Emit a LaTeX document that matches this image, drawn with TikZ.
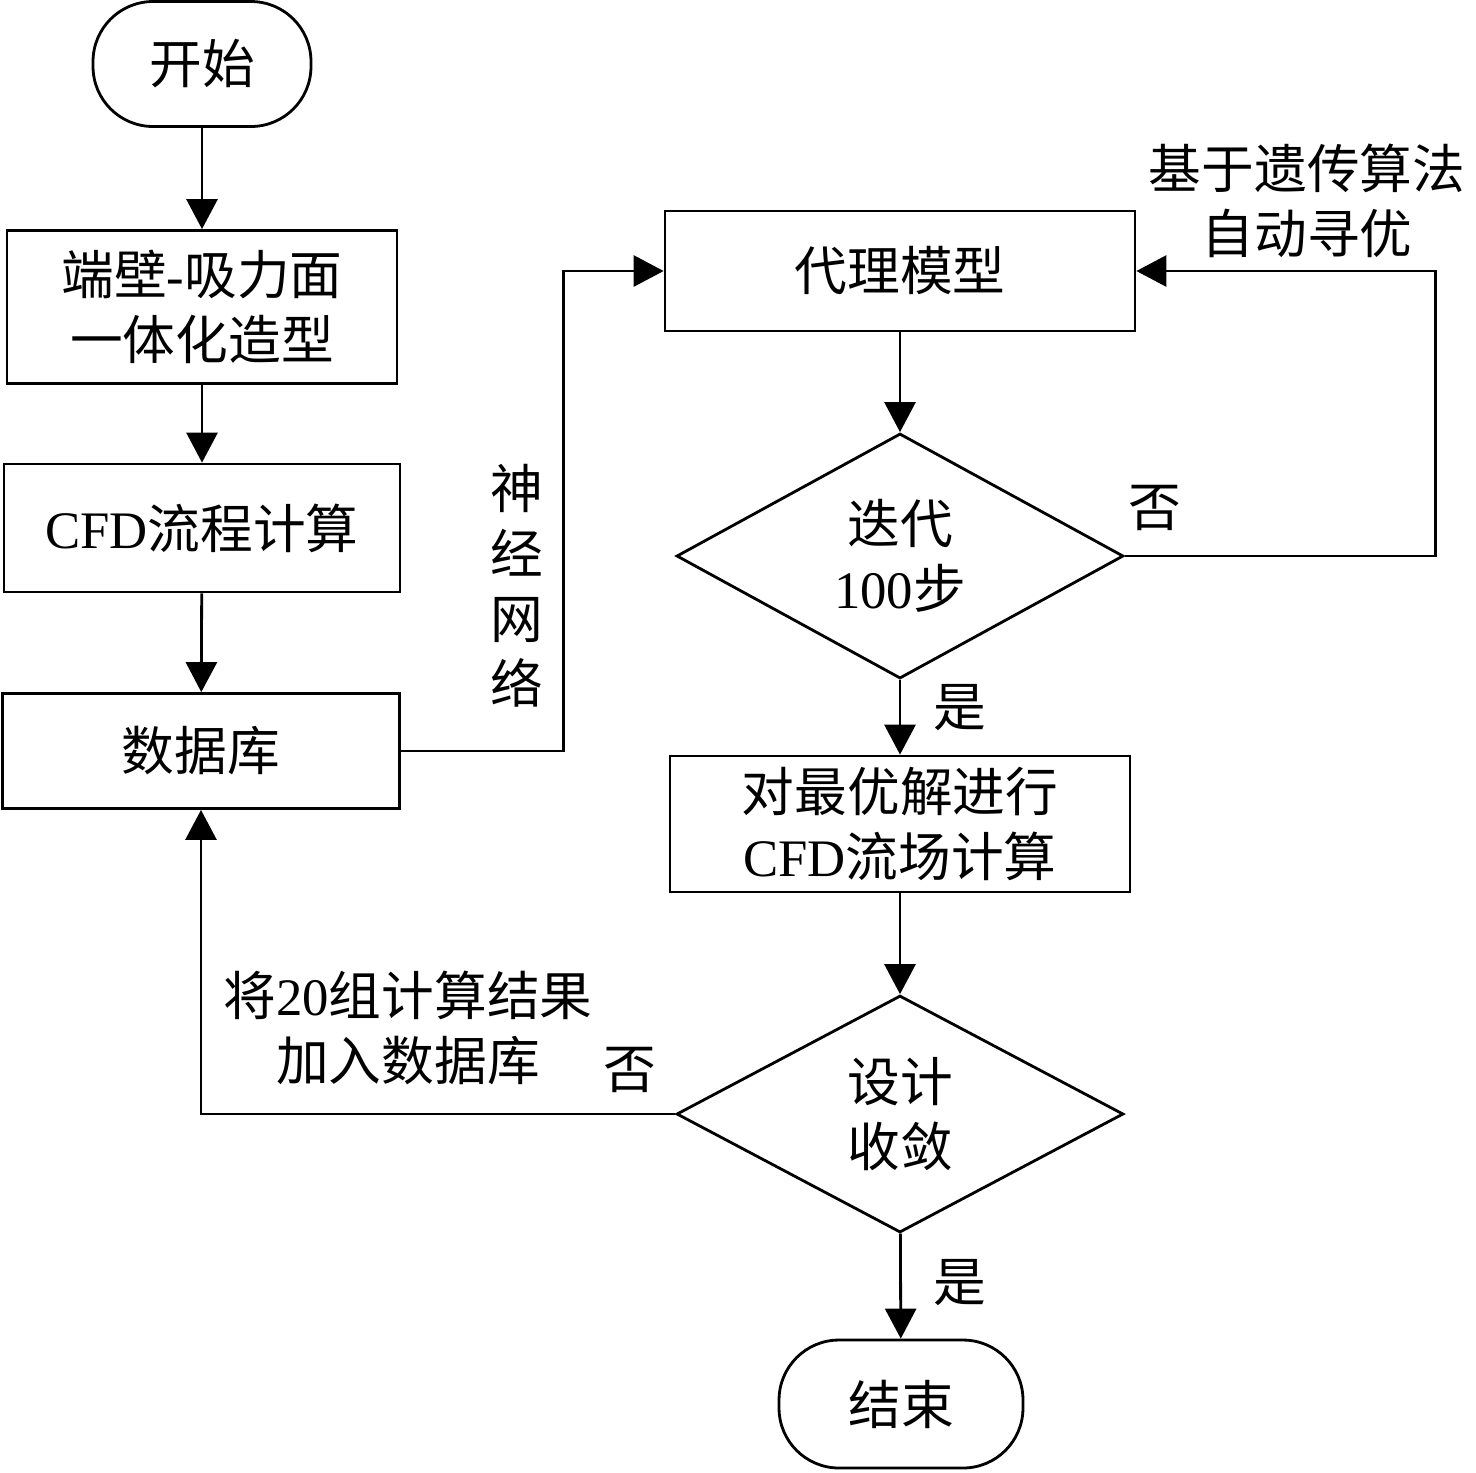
\documentclass[tikz,border=0pt]{standalone}
\usepackage{fontspec}
\setmainfont{Liberation Serif}
\newfontfamily\cjk{Noto Sans CJK SC}
\usetikzlibrary{shapes.geometric,arrows.meta}

\tikzset{
  base/.style={draw, line width=1.6pt, inner sep=0pt, align=center,
    font=\fontsize{30}{37}\selectfont},
  term/.style={base, rounded corners=1.2cm},
  proc/.style={base},
  decide/.style={base, diamond},
  lab/.style={inner sep=0pt, align=center, font=\fontsize{30}{37}\selectfont},
  arr/.style={line width=1.6pt, -{Triangle[length=0.6cm, width=0.62cm]}}
}

\begin{document}
\begin{tikzpicture}[x=0.02cm, y=-0.02cm]
        \useasboundingbox (0,0) rectangle (1476,1472);

        % left column
        \node[term, minimum width=4.36cm, minimum height=2.5cm] (start) at (202,64) {\cjk 开始};
        \node[proc, minimum width=7.8cm, minimum height=3.06cm] (wall) at (202,307)
            {{\cjk 端壁}-{\cjk 吸力面}\\{\cjk 一体化造型}};
        \node[proc, minimum width=7.92cm, minimum height=2.56cm] (cfd) at (202,528)
            {CFD{\cjk 流程计算}};
        \node[proc, minimum width=7.94cm, minimum height=2.3cm] (db) at (201,751) {\cjk 数据库};

        % right column
        \node[proc, minimum width=9.4cm, minimum height=2.4cm] (proxy) at (900,271) {\cjk 代理模型};
        \node[decide, minimum width=8.94cm, minimum height=4.8cm] (iter) at (900,556)
            {{\cjk 迭代}\\100{\cjk 步}};
        \node[proc, minimum width=9.2cm, minimum height=2.72cm] (best) at (900,824)
            {{\cjk 对最优解进行}\\CFD{\cjk 流场计算}};
        \node[decide, minimum width=8.94cm, minimum height=4.74cm] (conv) at (900,1114)
            {{\cjk 设计}\\{\cjk 收敛}};
        \node[term, minimum width=4.88cm, minimum height=2.56cm] (stop) at (901,1404) {\cjk 结束};

        % connectors
        \draw[arr] (start) -- (wall);
        \draw[arr] (wall) -- (cfd);
        \draw[arr] (cfd) -- (db);
        \draw[arr] (db.east) -- ++(163,0) |- (proxy.west);
        \draw[arr] (proxy) -- (iter);
        \draw[arr] (iter.east) -- ++(311,0) |- (proxy.east);
        \draw[arr] (iter) -- (best);
        \draw[arr] (best) -- (conv);
        \draw[arr] (conv.west) -| (db.south);
        \draw[arr] (conv) -- (stop);

        % labels
        \node[lab] (nn) at (517,586) {\cjk 神\\\cjk 经\\\cjk 网\\\cjk 络};
        \node[lab] (ga) at (1307,201) {\cjk 基于遗传算法\\\cjk 自动寻优};
        \node[lab] (no1) at (1155,508) {\cjk 否};
        \node[lab] (yes1) at (960,708) {\cjk 是};
        \node[lab] (add) at (408,1028) {{\cjk 将}20{\cjk 组计算结果}\\{\cjk 加入数据库}};
        \node[lab] (no2) at (630,1070) {\cjk 否};
        \node[lab] (yes2) at (960,1283) {\cjk 是};
\end{tikzpicture}
\end{document}
